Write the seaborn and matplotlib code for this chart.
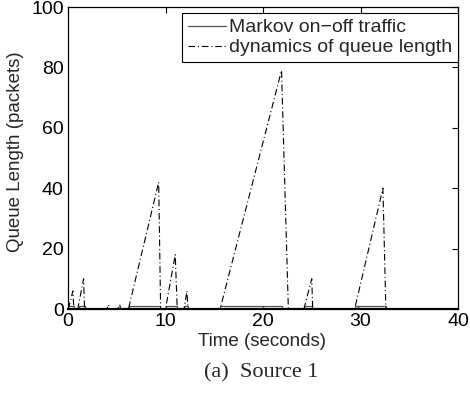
import matplotlib
matplotlib.use("Agg")
import matplotlib.pyplot as plt
import seaborn as sns
import pandas as pd

sns.set_style("white")
plt.rcParams['font.family'] = ['Liberation Sans', 'DejaVu Sans']

# Queue length (packets) vs time (s)
queue_t = [0, 0.2, 0.5, 0.6, 1.0, 1.6, 1.7, 4.0, 4.15, 4.3, 5.1, 5.3, 5.4,
           6.2, 9.3, 9.5, 10.0, 11.0, 11.2, 11.9, 12.2, 12.3,
           15.6, 21.9, 22.6, 24.2, 25.0, 25.1, 29.4, 32.3, 32.6, 40]
queue_q = [0, 2, 6, 0, 0, 10, 0, 0, 1.5, 0, 0, 1.5, 0,
           0, 42, 0, 0, 18, 0, 0, 6, 0,
           0, 79, 0, 0, 10, 0, 0, 40, 0, 0]

# Markov on-off traffic (step, on = 1)
traffic_t = [0, 0, 0.6, 0.6, 1.1, 1.1, 1.7, 1.7, 6.3, 6.3, 9.4, 9.4, 10.0, 10.0,
             11.2, 11.2, 11.9, 11.9, 12.3, 12.3, 15.6, 15.6, 20.0, 20.0, 20.05, 20.05,
             21.9, 21.9, 24.2, 24.2, 25.0, 25.0, 29.4, 29.4, 29.7, 29.7, 29.75, 29.75,
             32.6, 32.6, 40]
traffic_v = [0, 1, 1, 0, 0, 1, 1, 0, 0, 1, 1, 0, 0, 1,
             1, 0, 0, 1, 1, 0, 0, 1, 1, 0, 0, 1,
             1, 0, 0, 1, 1, 0, 0, 1, 1, 0, 0, 1,
             1, 0, 0]

df_q = pd.DataFrame({"t": queue_t, "q": queue_q})
df_tr = pd.DataFrame({"t": traffic_t, "v": traffic_v})

W, H = 470, 396
fig = plt.figure(figsize=(W/100, H/100), dpi=100)
ax = fig.add_axes([68/W, 1-309/H, (458-68)/W, (309-7)/H])

sns.lineplot(data=df_tr, x="t", y="v", ax=ax, sort=False, estimator=None,
             color="#555555", linewidth=0.9, label="Markov on\u2212off traffic")
sns.lineplot(data=df_q, x="t", y="q", ax=ax, sort=False, estimator=None,
             color="black", linewidth=0.8, linestyle=(0, (6, 2.5, 1, 2.5)),
             label="dynamics of queue length")

ax.set_xlim(0, 40)
ax.set_ylim(0, 100)
ax.set_xticks([0, 10, 20, 30, 40])
ax.set_yticks([0, 20, 40, 60, 80, 100])
ax.tick_params(direction="in", top=True, right=True, length=4, width=0.8,
               labelsize=14, pad=3, colors="black")
for s in ax.spines.values():
    s.set_visible(True)
    s.set_color("black")
    s.set_linewidth(0.9)
ax.spines['bottom'].set_linewidth(1.6)

ax.set_xlabel("")
ax.set_ylabel("")
fig.text(262.5/W, 1-341/H, "Time (seconds)", ha="center", va="center", fontsize=13.5)
fig.text(16/W, 1-152/H, "Queue Length (packets)", ha="center", va="center",
         rotation=90, fontsize=13.5)

leg = ax.legend(loc="upper right", bbox_to_anchor=(1.0, 1-6/302), fontsize=14,
                frameon=True, fancybox=False, edgecolor="black", framealpha=1,
                borderpad=0.3, labelspacing=0.12, handlelength=1.95,
                handletextpad=0.15, borderaxespad=0)
leg.get_frame().set_linewidth(0.8)

fig.text(261/W, 1-373/H, "(a)  Source 1", ha="center", va="center",
         fontsize=16, family=["Liberation Serif", "DejaVu Serif"])

fig.savefig("out.png", dpi=100)
